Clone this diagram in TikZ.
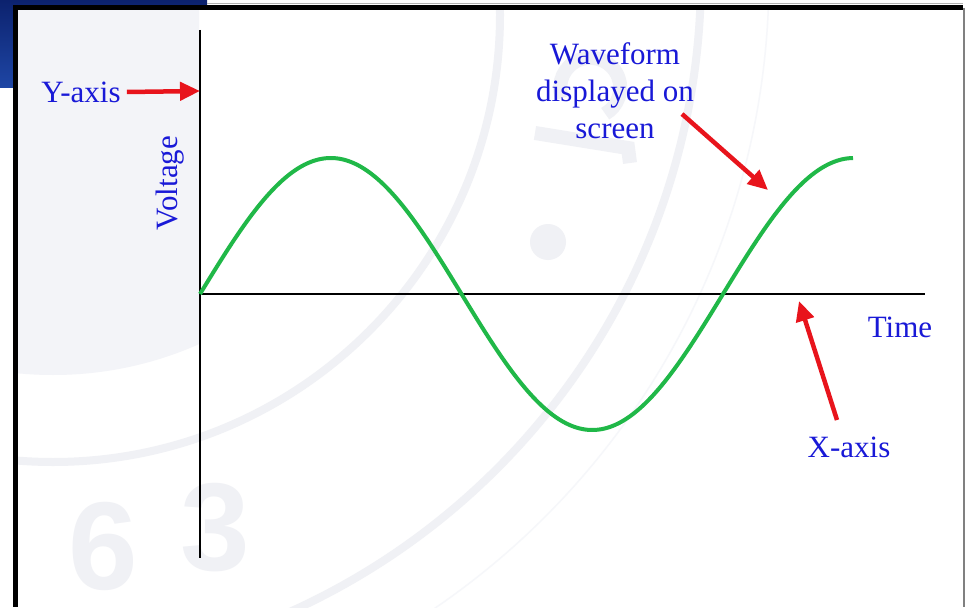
\documentclass[tikz,border=0pt]{standalone}
\usepackage{fontspec}
\setmainfont{Liberation Serif}
\newfontfamily\wmfont{Liberation Sans}
\usetikzlibrary{arrows.meta}
\definecolor{lblblue}{RGB}{25,25,215}
\definecolor{arrred}{RGB}{232,20,28}
\definecolor{wavegreen}{RGB}{32,184,72}
\definecolor{wmfill}{RGB}{243,244,248}
\definecolor{wmline}{RGB}{240,241,245}
\definecolor{wmthin}{RGB}{246,247,250}
\definecolor{navydark}{RGB}{12,34,110}
\definecolor{navylight}{RGB}{30,70,165}
\begin{document}
\begin{tikzpicture}[x=1pt,y=-1pt,
  lbl/.style={text=lblblue,font=\fontsize{31}{37}\selectfont,inner sep=0pt},
  redarrow/.style={draw=arrred,line width=4.5pt,-{Triangle[length=20pt,width=18pt]}},
  axisline/.style={draw=black,line width=2.8pt},
  wave/.style={draw=wavegreen,line width=4pt},
  wmring/.style={draw=wmline,line width=8pt},
  wmdigit/.style={text=wmline,font=\wmfont\bfseries\fontsize{125}{125}\selectfont,inner sep=0pt},
  framebar/.style={draw=black,line width=5pt}]
\useasboundingbox (0,0) rectangle (965,607);
% page background and the slide image corner
\fill[white] (0,0) rectangle (965,607);
\shade[top color=navydark,bottom color=navylight] (0,0) rectangle (207,88);
\fill[white] (16,7) rectangle (963,607);
% faint watermark
\begin{scope}
  \clip (18,10) rectangle (962,607);
  \begin{scope}
    \clip (18,10) rectangle (199,607);
    \fill[wmfill] (53,15) circle[radius=360pt];
  \end{scope}
  \draw[wmring] (53,15) circle[radius=447pt];
  \draw[wmring] (4,-24) circle[radius=697pt];
  \draw[draw=wmthin,line width=1.5pt] (4,-24) circle[radius=765pt];
  \fill[wmline] (548,242) circle[radius=18pt];
  % logo mark behind the label
  \draw[draw=wmline,line width=14pt,line cap=butt] (535,133) -- (628,148) -- (630,163);
  \draw[draw=wmline,line width=14pt] (562,98) arc[start angle=200,end angle=-60,radius=30pt];
  \node[wmdigit] (wmsix) at (103,546) {6};
  \node[wmdigit] (wmthree) at (215,528) {3};
\end{scope}
% axes
\coordinate (O) at (200,294);
\coordinate (ytop) at (200,30);
\coordinate (ybot) at (200,558);
\coordinate (xend) at (925,294);
\draw[axisline] (ytop) -- (ybot);
\draw[axisline] (O) -- (xend);
% waveform
\draw[wave] plot[domain=0:653,samples=240,smooth] ({200+\x},{294-136*sin(\x/523*360)});
% labels
\node[lbl] (yl) at (81,92) {Y-axis};
\node[lbl,rotate=90] (volt) at (170,183) {Voltage};
\node[lbl,align=center] (wf) at (615,91) {Waveform\\displayed on\\screen};
\node[lbl] (time) at (900,327) {Time};
\node[lbl] (xl) at (849,447) {X-axis};
% pointer arrows
\coordinate (ytip) at (200,91);
\coordinate (wtail) at (682,114);
\coordinate (wtip) at (768,190);
\coordinate (xtail) at (837,420);
\coordinate (xtip) at (799,301);
\draw[redarrow] ([xshift=6pt]yl.east) -- (ytip);
\draw[redarrow] (wtail) -- (wtip);
\draw[redarrow] (xtail) -- (xtip);
% slide frame
\draw[draw=gray!60,line width=0.8pt] (207,3.5) -- (963,3.5);
\draw[framebar] (13,7.5) -- (963,7.5);
\draw[framebar] (15.5,5) -- (15.5,607);
\draw[draw=gray,line width=2pt] (963.5,8) -- (963.5,607);
\end{tikzpicture}
\end{document}
